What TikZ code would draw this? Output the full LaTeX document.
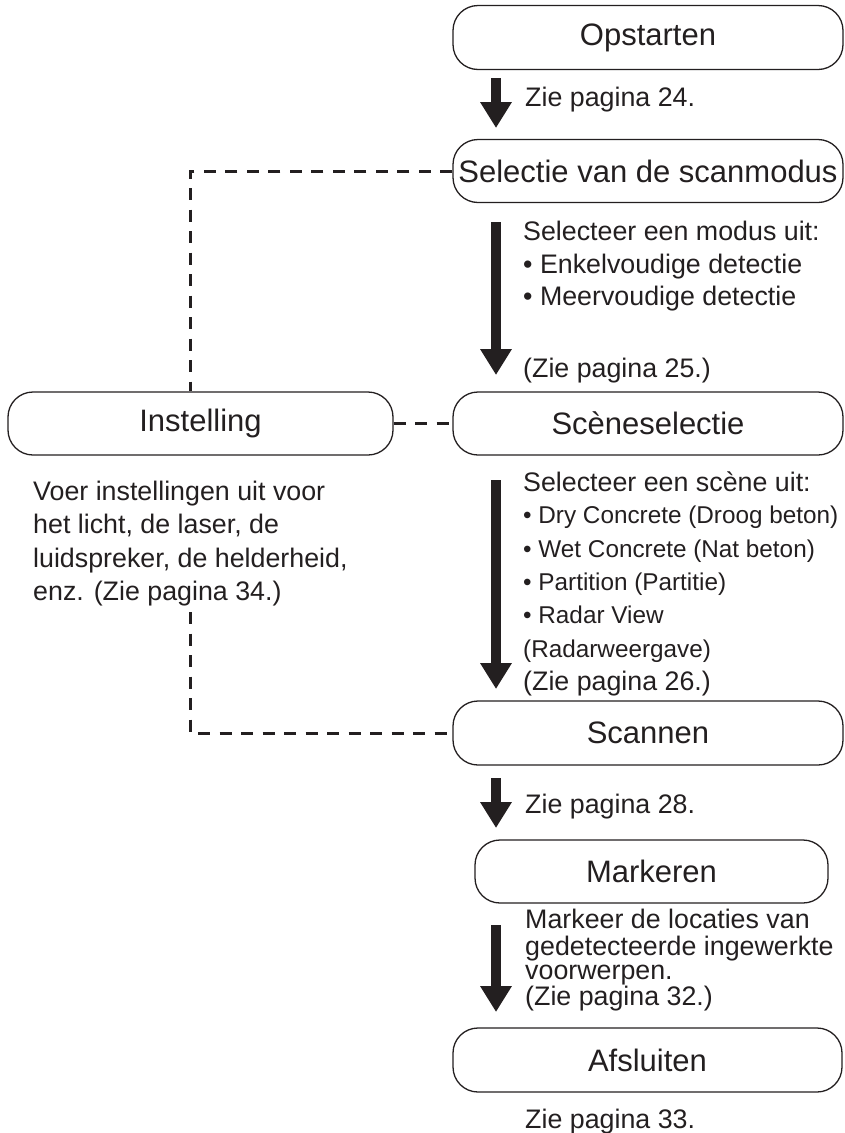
\documentclass[tikz,border=0pt]{standalone}
\usepackage{fontspec}
\setmainfont{Liberation Sans}
\usetikzlibrary{arrows.meta}
\definecolor{ink}{HTML}{231F20}
\newcommand\fbx{\fontsize{31}{36}\selectfont}
\newcommand\ftxt{\fontsize{26.8}{30}\selectfont}
\newcommand\flst{\fontsize{24.3}{28}\selectfont}
\tikzset{
  box/.style={draw=ink, line width=1.3pt, rounded corners=25pt, minimum height=64pt, inner sep=0pt, text=ink, font=\fbx},
  txt/.style={anchor=base west, inner sep=0pt, text=ink, font=\ftxt},
  lst/.style={txt, font=\flst},
  flow/.style={draw=ink, line width=10pt, -{Triangle[width=30pt,length=26pt]}},
  link/.style={draw=ink, line width=3pt, dash pattern=on 12pt off 9.5pt}
}
\begin{document}
\begin{tikzpicture}[x=1pt,y=-1pt]
\useasboundingbox (0,0) rectangle (844,1133);
% boxes
\node[box, minimum width=390pt] (start) at (648,37.5) {Opstarten};
\node[box, minimum width=390pt, minimum height=63pt] (sel) at (648,171) {Selectie van de scanmodus};
\node[box, minimum width=385pt, minimum height=63pt] (inst) at (200.5,423.5) {Instelling};
\node[box, minimum width=390pt, minimum height=63pt] (scene) at (648,423.5) {Scèneselectie};
\node[box, minimum width=390pt] (scan) at (648,733) {Scannen};
\node[box, minimum width=353pt, minimum height=63pt] (mark) at (651.5,871.5) {Markeren};
\node[box, minimum width=389pt] (end) at (647.5,1060) {Afsluiten};
% arrow end points
\coordinate (a1s) at (496,78);   \coordinate (a1e) at (496,128);
\coordinate (a2s) at (496,222);  \coordinate (a2e) at (496,375);
\coordinate (a3s) at (496,480);  \coordinate (a3e) at (496,689);
\coordinate (a4s) at (496,778);  \coordinate (a4e) at (496,828);
\coordinate (a5s) at (496,925);  \coordinate (a5e) at (496,1012);
\draw[flow] (a1s) -- (a1e);
\draw[flow] (a2s) -- (a2e);
\draw[flow] (a3s) -- (a3e);
\draw[flow] (a4s) -- (a4e);
\draw[flow] (a5s) -- (a5e);
% dashed links
\coordinate (c1) at (190,171);
\coordinate (c2) at (190,612);
\coordinate (c3) at (190,733);
\draw[link] (sel.west) -- (c1) -- (inst.north -| c1);
\draw[link] (inst.east) -- (scene.west);
\draw[link] (c2) -- (c3) -- (scan.west);
% texts
\node[txt] (t1) at (525,106) {Zie pagina 24.};
\node[txt] (m1) at (523,240) {Selecteer een modus uit:};
\node[txt] (m2) at (523,273) {• Enkelvoudige detectie};
\node[txt] (m3) at (523,305) {• Meervoudige detectie};
\node[txt] (m4) at (523,377) {(Zie pagina 25.)};
\node[txt] (s1) at (523,491) {Selecteer een scène uit:};
\node[lst] (s2) at (523,523) {• Dry Concrete (Droog beton)};
\node[lst] (s3) at (523,557) {• Wet Concrete (Nat beton)};
\node[lst] (s4) at (523,590) {• Partition (Partitie)};
\node[lst] (s5) at (523,623) {• Radar View};
\node[lst] (s6) at (523,657) {(Radarweergave)};
\node[txt] (s7) at (523,690) {(Zie pagina 26.)};
\node[txt] (i1) at (33,500) {Voer instellingen uit voor};
\node[txt] (i2) at (33,533) {het licht, de laser, de};
\node[txt] (i3) at (33,567) {luidspreker, de helderheid,};
\node[txt] (i4) at (33,600) {enz. (Zie pagina 34.)};
\node[txt] (t4) at (525,813) {Zie pagina 28.};
\node[txt] (k1) at (525,928) {Markeer de locaties van};
\node[txt] (k2) at (525,955) {gedetecteerde ingewerkte};
\node[txt] (k3) at (525,979) {voorwerpen.};
\node[txt] (k4) at (525,1005) {(Zie pagina 32.)};
\node[txt] (t5) at (525,1128) {Zie pagina 33.};
\end{tikzpicture}
\end{document}
